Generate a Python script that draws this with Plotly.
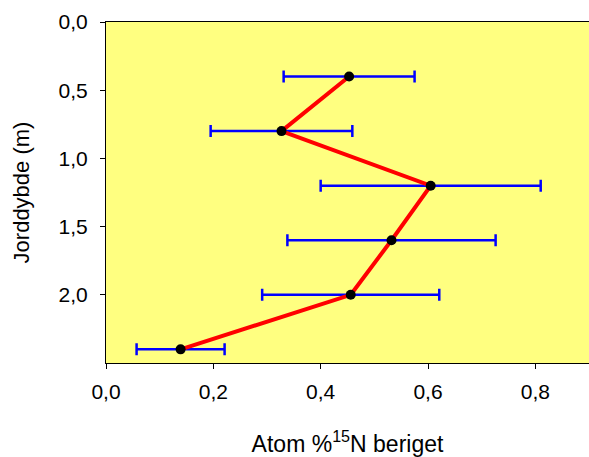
import plotly.graph_objects as go

# depth (m) and atom% 15N enrichment
depth = [0.4, 0.8, 1.2, 1.6, 2.0, 2.4]
atom_pct = [0.453, 0.327, 0.605, 0.532, 0.456, 0.139]
err = [0.122, 0.132, 0.205, 0.194, 0.165, 0.082]

y_ticks = [0.0, 0.5, 1.0, 1.5, 2.0]
x_ticks = [0.0, 0.2, 0.4, 0.6, 0.8]

font_name = "Liberation Sans, Arial, sans-serif"

fig = go.Figure()

# error bars first so the red line sits on top
fig.add_trace(go.Scatter(
    x=atom_pct, y=depth, mode="markers",
    marker=dict(size=1, color="rgba(0,0,0,0)"),
    error_x=dict(type="data", array=err, visible=True,
                 color="#0000ff", thickness=2.5, width=6),
    hoverinfo="skip", showlegend=False,
))

fig.add_trace(go.Scatter(
    x=atom_pct, y=depth, mode="lines+markers",
    line=dict(color="#ff0000", width=4),
    marker=dict(color="black", size=10),
    showlegend=False,
))

fig.update_layout(
    width=589, height=457,
    margin=dict(l=106, r=0, t=22, b=94),
    paper_bgcolor="white",
    plot_bgcolor="#ffff80",
    separators=", ",
    font=dict(family=font_name, size=21, color="black"),
)

fig.update_xaxes(
    range=[0, 0.9], tickvals=x_ticks, tickformat=".1f",
    showgrid=False, zeroline=False,
    showline=True, linecolor="black", linewidth=1, mirror=True,
    ticks="outside", ticklen=5, tickcolor="black",
    tickfont=dict(size=21),
    ticklabelstandoff=5,
    title=dict(text="Atom %<sup>15</sup>N beriget", standoff=38,
               font=dict(size=23)),
)

fig.update_yaxes(
    range=[2.5, 0], tickvals=y_ticks, tickformat=".1f",
    showgrid=False, zeroline=False,
    showline=True, linecolor="black", linewidth=1, mirror=True,
    ticks="outside", ticklen=5, tickcolor="black",
    tickfont=dict(size=21),
    ticklabelstandoff=8,
    title=dict(text="Jorddybde (m)", standoff=22, font=dict(size=22)),
)

# drop the default page margin so the figure sits at the window corner
fig.write_html("out.html",
               config={"displayModeBar": False},
               post_script="document.body.style.margin='0';"
                           "document.body.style.overflow='hidden';")
